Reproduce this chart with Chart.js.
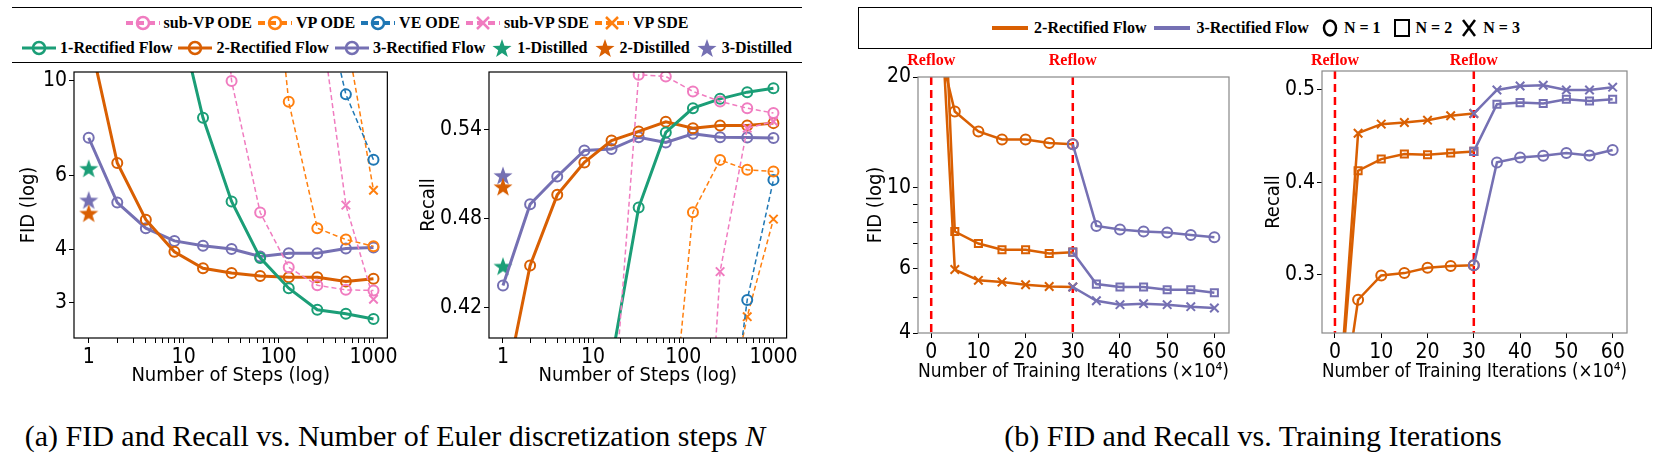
<!DOCTYPE html>
<html><head><meta charset="utf-8">
<script src="https://cdn.jsdelivr.net/npm/chart.js@4.4.0/dist/chart.umd.min.js"></script>
<style>
body{margin:0;width:1671px;height:454px;background:#fff;position:relative;overflow:hidden;font-family:"Liberation Serif",serif}
canvas{position:absolute}
.leg{position:absolute;display:flex;justify-content:center;align-items:center;font-weight:bold;font-size:16px;white-space:nowrap}
.leg span{display:inline-flex;align-items:center;margin:0 3px}
.leg svg{margin-right:4px}
.cap{position:absolute;font-size:30px;line-height:34px;white-space:nowrap;transform:translateX(-50%)}
</style></head><body>
<div id="leg1" style="position:absolute;left:12px;top:7px;width:790px;height:54px;border-top:1.5px solid #000;border-bottom:1.5px solid #000"></div>
<div id="leg2" style="position:absolute;left:858px;top:7px;width:792px;height:40px;border:1.5px solid #000"></div>
<canvas id="c1" width="400" height="360" style="left:0;top:40px"></canvas>
<canvas id="c2" width="400" height="360" style="left:400px;top:40px"></canvas>
<canvas id="c3" width="420" height="360" style="left:820px;top:40px"></canvas>
<canvas id="c4" width="431" height="360" style="left:1240px;top:40px"></canvas>
<div class="cap" style="left:395px;top:419px">(a) FID and Recall vs. Number of Euler discretization steps <i>N</i></div>
<div class="cap" style="left:1253px;top:419px">(b) FID and Recall vs. Training Iterations</div>
<script>
// ---------- data ----------
const steps = [1,2,4,8,16,32,64,128,256,512,1000];
const fidRF1 = [null,null,null,15.7,8.19,5.2,3.83,3.25,2.89,2.83,2.75];
const fidRF2 = [12.9,6.41,4.71,3.96,3.62,3.53,3.47,3.45,3.45,3.37,3.42];
const fidRF3 = [7.35,5.17,4.5,4.2,4.09,4.02,3.86,3.93,3.93,4.03,4.05];
const fidStars = [6.21,4.87,5.23]; // 1-,2-,3-Distilled at N=1
const fidSubVPODE = [null,null,null,null,60,10,4.9,3.64,3.3,3.22,3.21];
const fidVPODE = [null,null,null,null,null,null,40,8.93,4.5,4.23,4.08];
const fidVEODE = [null,null,null,null,null,null,null,null,18.1,9.3,6.52];
const fidSubVPSDE = [null,null,null,null,null,null,null,null,16.2,5.1,3.06];
const fidVPSDE = [null,null,null,null,null,null,null,null,null,13,5.53];
const recRF1 = [null,null,null,null,0.384,0.4875,0.5382,0.5546,0.5609,0.5654,0.5681];
const recRF2 = [0.358,0.4484,0.4961,0.518,0.5328,0.5389,0.5454,0.5411,0.5429,0.5429,0.5445];
const recRF3 = [0.4349,0.4898,0.5085,0.526,0.527,0.535,0.5314,0.5373,0.535,0.5348,0.5344];
const recStars = [0.4477,0.5013,0.5089];
const recSubVPODE = [null,null,null,null,0.332,0.5771,0.576,0.5659,0.5591,0.5546,0.5513];
const recVPODE = [null,null,null,null,null,null,0.295,0.4844,0.5197,0.513,0.5119];
const recVEODE = [null,null,null,null,null,null,null,null,0.2836,0.4252,0.5062];
const recSubVPSDE = [null,null,null,null,null,null,null,0.15,0.4443,0.5411,0.5456];
const recVPSDE = [null,null,null,null,null,null,null,null,0.326,0.4139,0.4797];

const itersA = [0,5,10,15,20,25,30];
const itersB = [30,35,40,45,50,55,60];
const fidA_N1 = [29.8,16.1,14.2,13.5,13.5,13.2,13.1];
const fidA_N2 = [228,7.57,7.02,6.75,6.75,6.59,6.65];
const fidA_N3 = [100,5.96,5.57,5.51,5.42,5.36,5.34];
const fidB_N1 = [13.1,7.84,7.67,7.57,7.52,7.41,7.3];
const fidB_N2 = [6.65,5.44,5.34,5.34,5.25,5.25,5.15];
const fidB_N3 = [5.34,4.9,4.78,4.81,4.78,4.72,4.68];
const recA_N1 = [0.1,0.273,0.2993,0.3018,0.3076,0.3094,0.3104];
const recA_N2 = [0.1,0.4126,0.4252,0.4306,0.4299,0.4317,0.4335];
const recA_N3 = [0.1,0.4532,0.463,0.4647,0.4673,0.472,0.4745];
const recB_N1 = [0.3104,0.4216,0.427,0.4288,0.4317,0.429,0.435];
const recB_N2 = [0.4335,0.4845,0.4863,0.4853,0.49,0.488,0.49];
const recB_N3 = [0.4745,0.5,0.5043,0.505,0.5,0.5,0.503];
const reflowX = [0,30];

const fidTicks1 = [3,4,6,10], recTicks1 = [0.42,0.48,0.54];
const fidTicks2 = [4,6,10,20], fidMinor2 = [5,7,8,9], recTicks2 = [0.3,0.4,0.5];
const iterTicks = [0,10,20,30,40,50,60];

// ---------- styles ----------
const G='#1b9e77',O='#d95f02',P='#7570b3',PK='#f07cc0',VO='#ff7f0e',VB='#1f77b4';
function starImg(c){const cv=document.createElement('canvas');cv.width=cv.height=20;const x=cv.getContext('2d');
 x.fillStyle=c;x.beginPath();for(let i=0;i<10;i++){const r=i%2?4:10,a=-Math.PI/2+i*Math.PI/5;x.lineTo(10+r*Math.cos(a),10.5+r*Math.sin(a));}x.closePath();x.fill();return cv;}
const xy=(xs,ys)=>xs.map((x,i)=>({x,y:ys[i]}));
function rf(label,c,ys,xs=steps){return {label,data:xy(xs,ys),borderColor:c,borderWidth:3,pointStyle:'circle',pointRadius:5,pointBorderWidth:2,pointBorderColor:c,pointBackgroundColor:'rgba(0,0,0,0)',spanGaps:false};}
function base(label,c,ys,ps){return {label,data:xy(steps,ys),borderColor:c,borderWidth:1.5,borderDash:[5,3],pointStyle:ps,pointRadius:ps==='crossRot'?6:5,pointBorderWidth:2,pointBorderColor:c,pointBackgroundColor:'rgba(0,0,0,0)'};}
function star(label,c,v){return {label,data:[{x:1,y:v}],showLine:false,pointStyle:starImg(c),pointRadius:10};}
function it(c,xs,ys,ps){return {data:xy(xs,ys),borderColor:c,borderWidth:2.5,pointStyle:ps,pointRadius:ps==='crossRot'?6:5,pointBorderWidth:2,pointBorderColor:c,pointBackgroundColor:'rgba(0,0,0,0)'};}

const FONT='"DejaVu Sans Condensed","DejaVu Sans",sans-serif';
const frame={id:'frame',afterDraw(ch,a,o){const c=ch.ctx,A=ch.chartArea;c.save();c.strokeStyle=o.color||'#000';c.lineWidth=1.2;c.strokeRect(A.left,A.top,A.right-A.left,A.bottom-A.top);c.restore();}};
const reflow={id:'reflow',beforeDatasetsDraw(ch,a,o){if(!o.on)return;const c=ch.ctx,A=ch.chartArea,s=ch.scales.x;c.save();
 reflowX.forEach(v=>{const px=s.getPixelForValue(v);c.strokeStyle='#ff0000';c.lineWidth=2.5;c.setLineDash([8,5]);c.beginPath();c.moveTo(px,A.top);c.lineTo(px,A.bottom);c.stroke();
 c.setLineDash([]);c.fillStyle='#ff0000';c.font='bold 16px "Liberation Serif",serif';c.textAlign='center';c.textBaseline='middle';c.fillText('Reflow',px,o.ty);});c.restore();}};

function logXTicks(min,max){const t=[];for(let d=1;d<=1000;d*=10)for(let m=1;m<10;m++){const v=m*d;if(v>=min&&v<=max)t.push(v);}return t;}
function make(id,cfg){
 const xo=cfg.x, yo=cfg.y;
 new Chart(document.getElementById(id),{type:'line',data:{datasets:cfg.ds},
 options:{responsive:false,animation:false,events:[],layout:{padding:{top:cfg.pt,right:cfg.pr,left:0,bottom:0}},
 plugins:{legend:{display:false},tooltip:{enabled:false},frame:{color:cfg.fc},reflow:{on:cfg.reflow,ty:cfg.rty}},
 scales:{
  x:{type:xo.type,min:xo.min,max:xo.max,border:{display:false},grid:{drawOnChartArea:false,tickLength:5,color:'#000'},
   afterBuildTicks:s=>{s.ticks=xo.ticks.map(v=>({value:v}));},
   afterFit:s=>{s.height=cfg.xh;},
   ticks:{autoSkip:false,maxRotation:0,color:'#000',font:{family:FONT,size:21},padding:2,callback:xo.cb},
   title:{display:true,text:xo.title,color:'#000',font:{family:FONT,size:20},padding:{top:0,bottom:xo.tp}}},
  y:{type:yo.type,min:yo.min,max:yo.max,border:{display:false},grid:{drawOnChartArea:false,tickLength:5,color:'#000'},
   afterBuildTicks:s=>{s.ticks=yo.ticks.map(v=>({value:v}));},
   afterFit:s=>{s.width=cfg.yw;},
   ticks:{autoSkip:false,color:'#000',font:{family:FONT,size:21},padding:2,callback:yo.cb},
   title:{display:true,text:yo.title,color:'#000',font:{family:FONT,size:20},padding:{top:yo.tp,bottom:0}}}}},
 plugins:[frame,reflow]});
}
const stepsCb=v=>[1,10,100,1000].includes(v)?String(v):'';
const xSteps={type:'logarithmic',min:0.72,max:1400,ticks:logXTicks(0.72,1400),cb:stepsCb,title:'Number of Steps (log)',tp:12};
make('c1',{pt:32,pr:9,yw:74,xh:62,fc:'#000',x:xSteps,
 y:{type:'logarithmic',min:2.48,max:10.5,ticks:fidTicks1,cb:v=>String(v),title:'FID (log)',tp:17},
 ds:[base('sub-VP ODE',PK,fidSubVPODE,'circle'),base('VP ODE',VO,fidVPODE,'circle'),base('VE ODE',VB,fidVEODE,'circle'),
  base('sub-VP SDE',PK,fidSubVPSDE,'crossRot'),base('VP SDE',VO,fidVPSDE,'crossRot'),
  rf('1-Rectified Flow',G,fidRF1),rf('2-Rectified Flow',O,fidRF2),rf('3-Rectified Flow',P,fidRF3),
  star('1-Distilled',G,fidStars[0]),star('2-Distilled',O,fidStars[1]),star('3-Distilled',P,fidStars[2])]});
make('c2',{pt:32,pr:12,yw:89,xh:62,fc:'#000',x:xSteps,
 y:{type:'linear',min:0.3995,max:0.579,ticks:recTicks1,cb:v=>v.toFixed(2),title:'Recall',tp:17},
 ds:[base('sub-VP ODE',PK,recSubVPODE,'circle'),base('VP ODE',VO,recVPODE,'circle'),base('VE ODE',VB,recVEODE,'circle'),
  base('sub-VP SDE',PK,recSubVPSDE,'crossRot'),base('VP SDE',VO,recVPSDE,'crossRot'),
  rf('1-Rectified Flow',G,recRF1),rf('2-Rectified Flow',O,recRF2),rf('3-Rectified Flow',P,recRF3),
  star('1-Distilled',G,recStars[0]),star('2-Distilled',O,recStars[1]),star('3-Distilled',P,recStars[2])]});
const xIt={type:'linear',min:-2.8,max:63.1,ticks:iterTicks,cb:v=>String(v),title:'Number of Training Iterations (×10⁴)',tp:16};
make('c3',{pt:37,pr:11,yw:98,xh:67,fc:'#888',reflow:true,rty:21,x:xIt,
 y:{type:'logarithmic',min:4,max:20,ticks:fidTicks2.concat(fidMinor2).sort((a,b)=>a-b),cb:v=>fidTicks2.includes(v)?String(v):'',title:'FID (log)',tp:44},
 ds:[it(P,itersB,fidB_N1,'circle'),it(P,itersB,fidB_N2,'rect'),it(P,itersB,fidB_N3,'crossRot'),
  it(O,itersA,fidA_N1,'circle'),it(O,itersA,fidA_N2,'rect'),it(O,itersA,fidA_N3,'crossRot')]});
make('c4',{pt:31,pr:44,yw:82,xh:67,fc:'#888',reflow:true,rty:21,x:xIt,
 y:{type:'linear',min:0.237,max:0.5205,ticks:recTicks2,cb:v=>v.toFixed(1),title:'Recall',tp:22},
 ds:[it(P,itersB,recB_N1,'circle'),it(P,itersB,recB_N2,'rect'),it(P,itersB,recB_N3,'crossRot'),
  it(O,itersA,recA_N1,'circle'),it(O,itersA,recA_N2,'rect'),it(O,itersA,recA_N3,'crossRot')]});

// ---------- legends (HTML) ----------
function icon(c,kind,dash,lw){let m='';
 if(kind==='circle')m=`<circle cx="17" cy="9" r="6" fill="none" stroke="${c}" stroke-width="2.5"/>`;
 if(kind==='x')m=`<path d="M11 3L23 15M23 3L11 15" stroke="${c}" stroke-width="2.5"/>`;
 if(kind==='star')return `<svg width="22" height="20" viewBox="0 0 22 20"><polygon points="${Array.from({length:10},(_,i)=>{const r=i%2?4:10,a=-Math.PI/2+i*Math.PI/5;return (11+r*Math.cos(a)).toFixed(1)+','+(11+r*Math.sin(a)).toFixed(1)}).join(' ')}" fill="${c}"/></svg>`;
 return `<svg width="34" height="18"><line x1="0" y1="9" x2="34" y2="9" stroke="${c}" stroke-width="${lw}" ${dash?'stroke-dasharray="7,4"':''}/>${m}</svg>`;}
const L=(c,k,d,lw,t)=>`<span>${icon(c,k,d,lw)}${t}</span>`;
document.getElementById('leg1').innerHTML=
 `<div class="leg" style="left:0;right:0;top:4px;height:22px">${L(PK,'circle',1,4,'sub-VP ODE')}${L(VO,'circle',1,4,'VP ODE')}${L(VB,'circle',1,4,'VE ODE')}${L(PK,'x',1,4,'sub-VP SDE')}${L(VO,'x',1,4,'VP SDE')}</div>`+
 `<div class="leg" style="left:0;right:0;top:29px;height:22px">${L(G,'circle',0,3,'1-Rectified Flow')}${L(O,'circle',0,3,'2-Rectified Flow')}${L(P,'circle',0,3,'3-Rectified Flow')}<span>${icon(G,'star')}1-Distilled</span><span>${icon(O,'star')}2-Distilled</span><span>${icon(P,'star')}3-Distilled</span></div>`;
document.getElementById('leg2').innerHTML=
 `<div class="leg" style="left:0;right:0;top:9px;height:22px">
 <span><svg width="40" height="18"><line x1="2" y1="9" x2="38" y2="9" stroke="${O}" stroke-width="4"/></svg>2-Rectified Flow</span>
 <span><svg width="40" height="18"><line x1="2" y1="9" x2="38" y2="9" stroke="${P}" stroke-width="4"/></svg>3-Rectified Flow</span>
 <span style="margin-left:8px"><svg width="20" height="20"><ellipse cx="10" cy="10" rx="6" ry="7.5" fill="none" stroke="#000" stroke-width="2.5"/></svg>N = 1</span>
 <span style="margin-left:8px"><svg width="20" height="20"><rect x="3" y="2" width="14" height="16" fill="none" stroke="#000" stroke-width="2"/></svg>N = 2</span>
 <span style="margin-left:4px"><svg width="20" height="20"><path d="M4 2L16 18M16 2L4 18" stroke="#000" stroke-width="2.5"/></svg>N = 3</span></div>`;
</script></body></html>
